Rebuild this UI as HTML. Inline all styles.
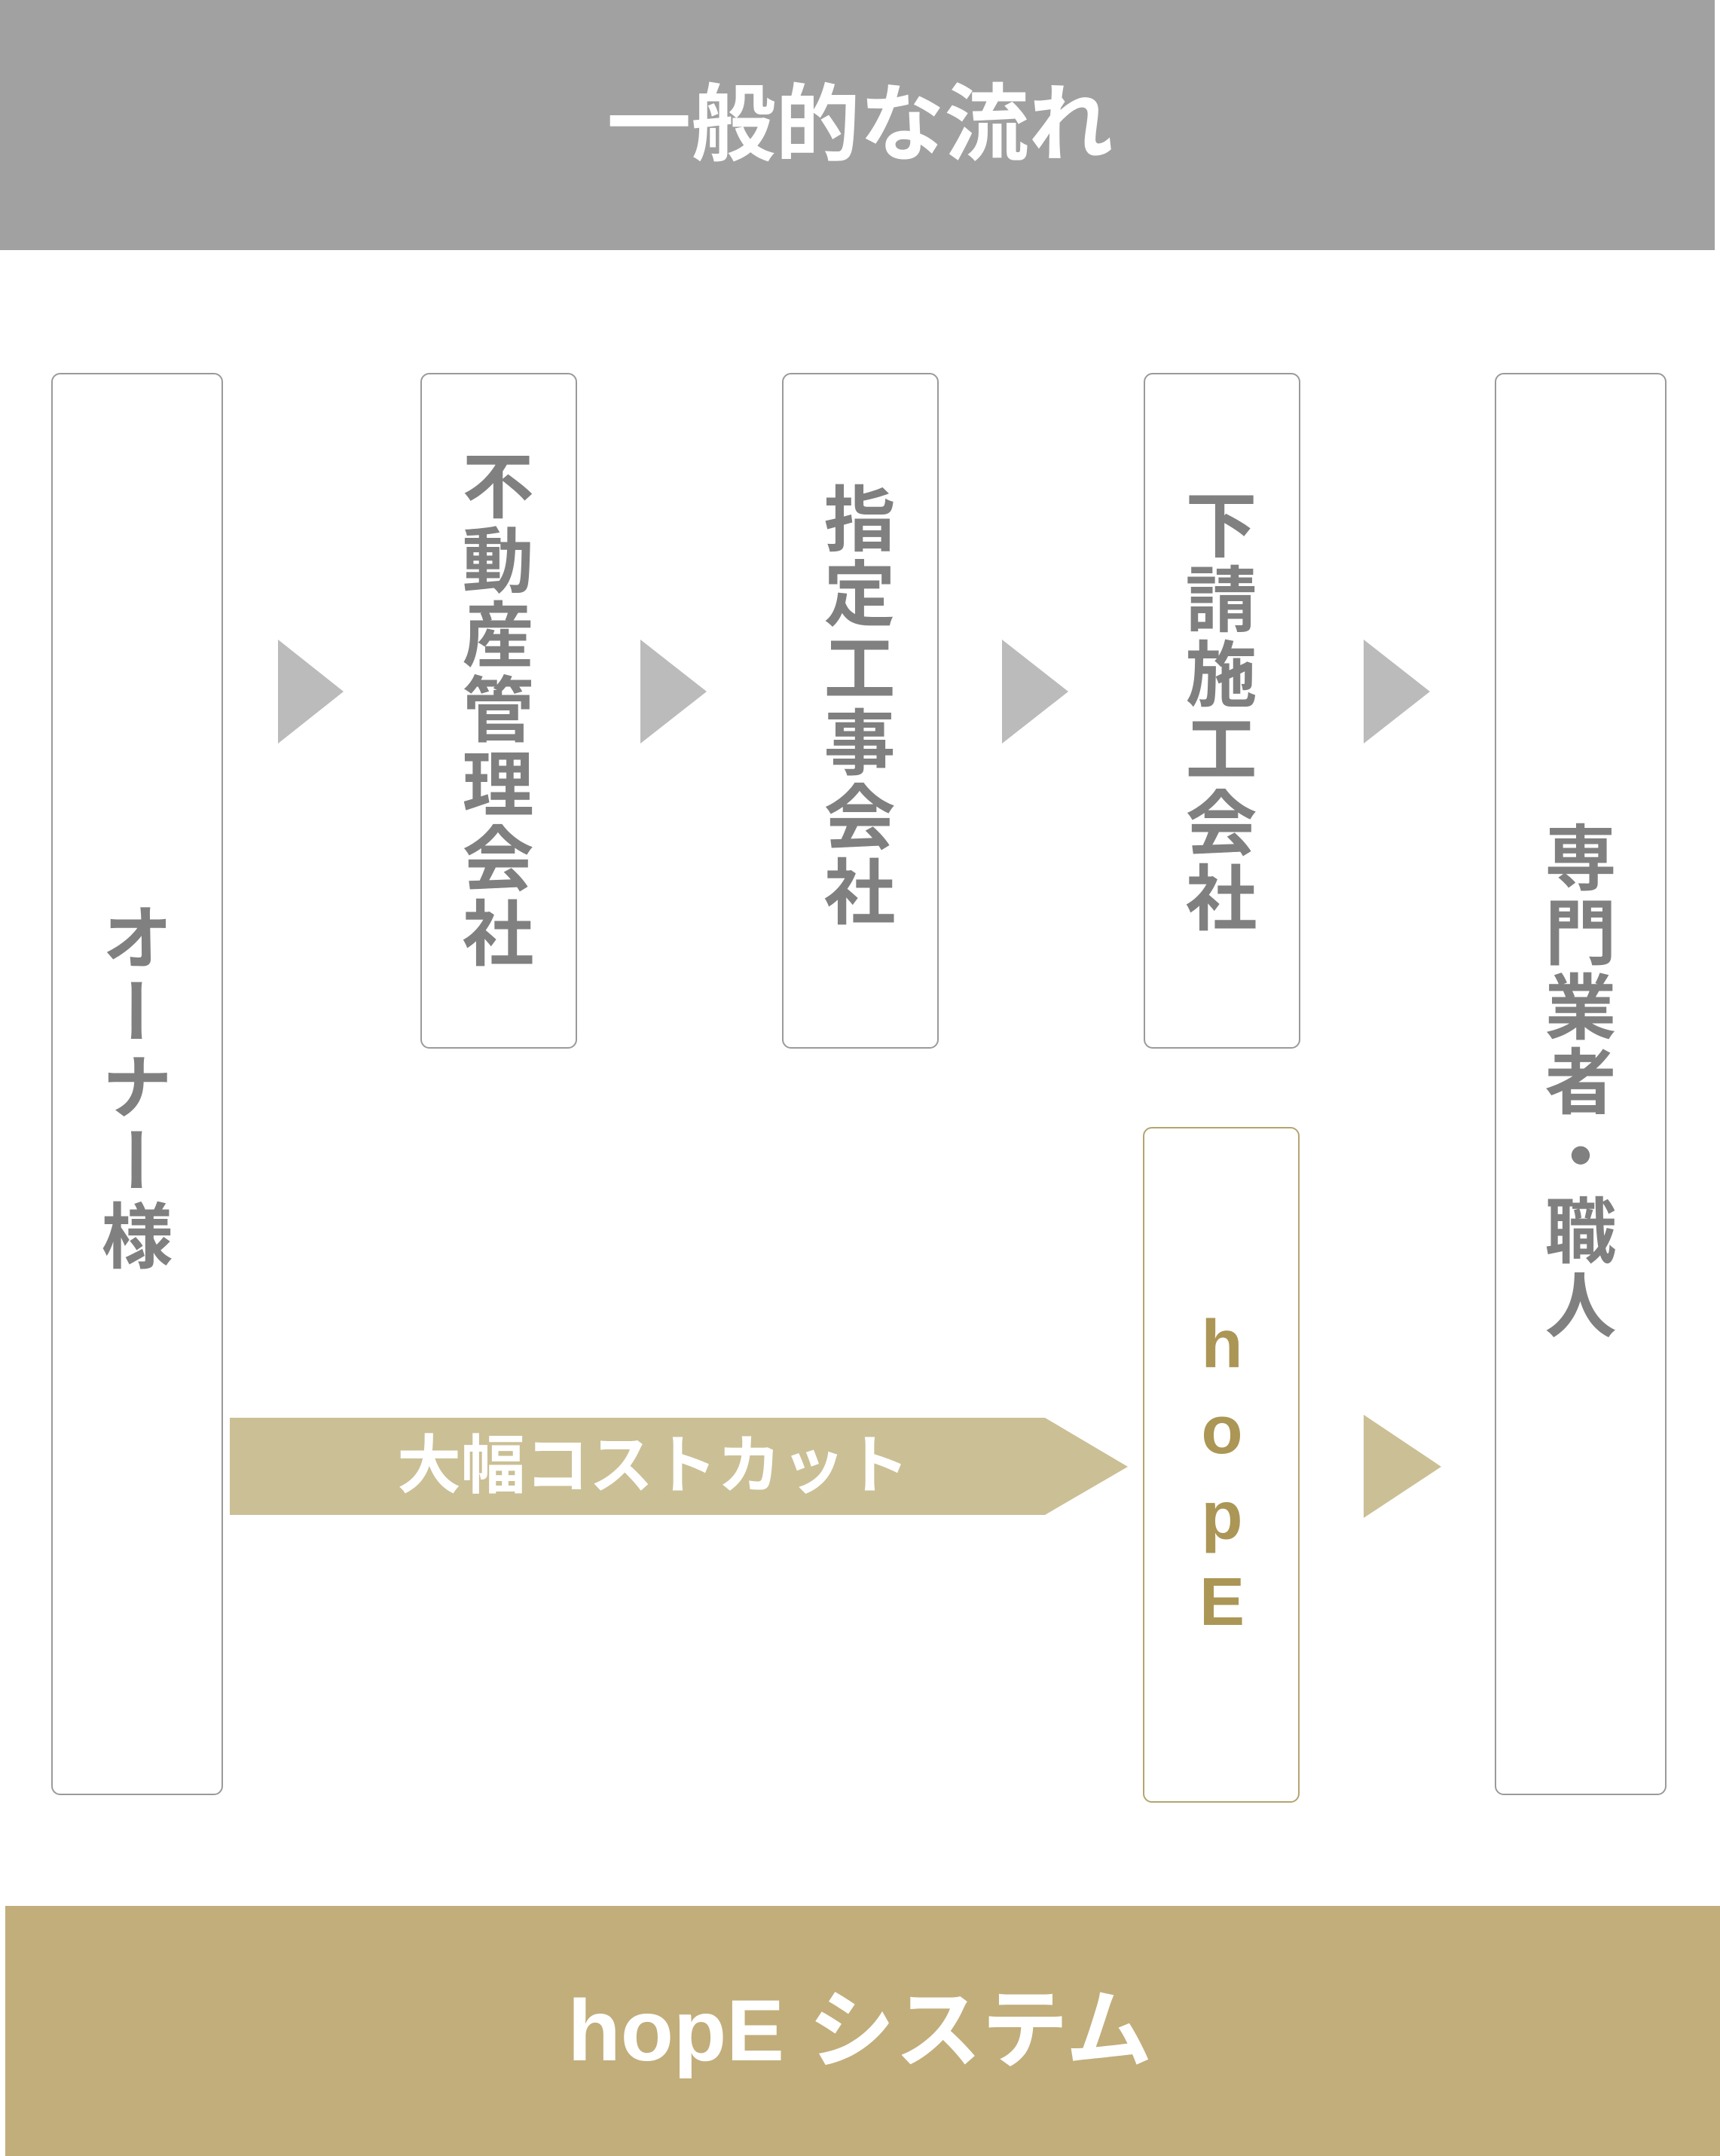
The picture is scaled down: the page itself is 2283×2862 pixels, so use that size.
<!DOCTYPE html>
<html><head><meta charset="utf-8"><style>
html,body{margin:0;padding:0;}
body{width:2283px;height:2862px;position:relative;background:#fff;overflow:hidden;font-family:"Liberation Sans","Noto Sans CJK JP",sans-serif;}
.abs{position:absolute;}
.box{position:absolute;border:2px solid #9a9a9a;border-radius:12px;box-sizing:border-box;background:#fff;}
.vt{position:absolute;writing-mode:vertical-rl;text-orientation:upright;font-weight:700;color:#808080;font-size:95px;line-height:1;letter-spacing:4px;transform:translateX(-50%);white-space:nowrap;}
</style></head><body>
<div class="abs" style="left:0;top:0;width:2276px;height:332px;background:#a1a1a1;"></div>
<div class="abs" style="left:0;top:0;width:2283px;height:332px;line-height:332px;text-align:center;color:#fff;font-weight:700;font-size:112px;">一般的な流れ</div>

<div class="box" style="left:68px;top:495px;width:228px;height:1888px;"></div>
<div class="box" style="left:558px;top:495px;width:208px;height:897px;"></div>
<div class="box" style="left:1038px;top:495px;width:208px;height:897px;"></div>
<div class="box" style="left:1518px;top:495px;width:208px;height:897px;"></div>
<div class="box" style="left:1984px;top:495px;width:228px;height:1888px;"></div>
<div class="box" style="left:1517px;top:1496px;width:208px;height:897px;border-color:#b5a470;"></div>

<div class="vt" style="left:173px;top:1196px;">オーナー様</div>
<div class="vt" style="left:652px;top:596px;">不動産管理会社</div>
<div class="vt" style="left:1132px;top:640px;">指定工事会社</div>
<div class="vt" style="left:1612px;top:648px;">下請施工会社</div>
<div class="vt" style="left:2089px;top:1090px;">専門業者・職人</div>
<div class="vt" style="left:1622px;top:1735px;color:#ab9656;font-size:90px;letter-spacing:14px;">hopE</div>

<svg class="abs" style="left:0;top:0" width="2283" height="2862">
<polygon points="369,849 456,918 369,987" fill="#bbbbbb"/>
<polygon points="850,849 938,918 850,987" fill="#bbbbbb"/>
<polygon points="1330,849 1418,918 1330,987" fill="#bbbbbb"/>
<polygon points="1810,849 1898,918 1810,987" fill="#bbbbbb"/>
<polygon points="1810,1878 1913,1947 1810,2015" fill="#cbbf95"/>
<polygon points="305,1882 1387,1882 1497,1947 1387,2011 305,2011" fill="#cbbf95"/>
</svg>
<div class="abs" style="left:305px;top:1882px;width:1124px;height:129px;line-height:129px;text-align:center;color:#fff;font-weight:700;font-size:85px;">大幅コストカット</div>

<div class="abs" style="left:7px;top:2530px;width:2276px;height:332px;background:#c2ae7b;"></div>
<div class="abs" style="left:0;top:2530px;width:2283px;height:332px;line-height:332px;text-align:center;color:#fff;font-weight:700;font-size:115px;">hopE システム</div>
</body></html>
